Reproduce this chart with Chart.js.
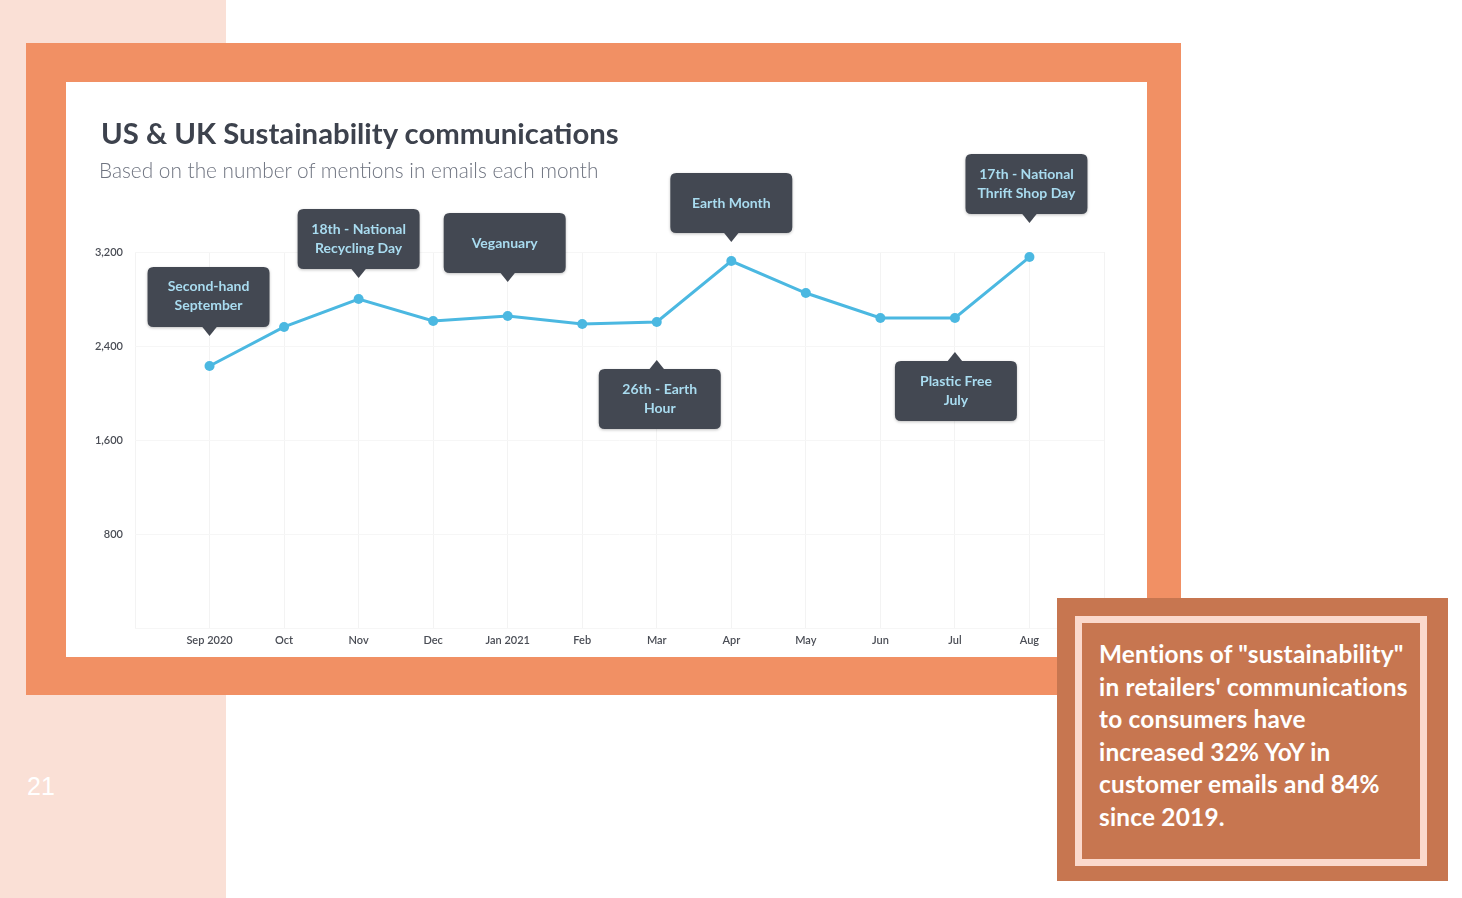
<!DOCTYPE html>
<html>
<head>
<meta charset="utf-8">
<script src="https://cdn.jsdelivr.net/npm/chart.js@4.4.1/dist/chart.umd.min.js"></script>
<style>
  html, body { margin: 0; padding: 0; }
  body { width: 1462px; height: 898px; position: relative; background: #ffffff; overflow: hidden; font-family: Lato, "Open Sans", sans-serif; }
  #strip { position: absolute; left: 0; top: 0; width: 226px; height: 898px; background: #fae0d6; }
  #frame { position: absolute; left: 26px; top: 43px; width: 1155px; height: 652px; background: #f19064; }
  #card { position: absolute; left: 66px; top: 82px; width: 1081px; height: 575px; background: #ffffff; }
  #title { position: absolute; left: 35px; top: 33px; font-size: 29.3px; font-weight: 700; color: #3d424d; white-space: nowrap; }
  #subtitle { position: absolute; left: 33px; top: 75px; font-size: 20.8px; font-weight: 300; color: #6f7480; white-space: nowrap; }
  #chartWrap { position: absolute; left: 0; top: 0; width: 1081px; height: 575px; }
  #page { position: absolute; left: 27px; top: 772px; font-family: "Liberation Sans", Arial, sans-serif; font-size: 25px; color: #ffffff; }
  #note { position: absolute; left: 1057px; top: 598px; width: 391px; height: 283px; background: #c77650; }
  #noteInner { position: absolute; left: 18px; top: 18px; width: 338px; height: 236px; border: 7px solid #fbd9cc; }
  #noteText { position: absolute; left: 42px; top: 40px; font-size: 24.4px; letter-spacing: 0.2px; font-weight: 700; line-height: 32.6px; color: #ffffff; white-space: nowrap; }
</style>
</head>
<body>
<div id="strip"></div>
<div id="frame"></div>
<div id="card">
  <div id="chartWrap"><canvas id="myChart"></canvas></div>
  <div id="title">US &amp; UK Sustainability communications</div>
  <div id="subtitle">Based on the number of mentions in emails each month</div>
</div>
<div id="page">21</div>
<div id="note">
  <div id="noteInner"></div>
  <div id="noteText">Mentions of "sustainability"<br>in retailers' communications<br>to consumers have<br>increased 32% YoY in<br>customer emails and 84%<br>since 2019.</div>
</div>
<script>
// months shown on the x axis
var months = ['Sep 2020', 'Oct', 'Nov', 'Dec', 'Jan 2021', 'Feb', 'Mar', 'Apr', 'May', 'Jun', 'Jul', 'Aug'];
// mentions per month
var mentions = [2230, 2562, 2800, 2613, 2655, 2587, 2604, 3123, 2851, 2638, 2638, 3157];
// y axis ticks
var yTicks = [800, 1600, 2400, 3200];

// callout labels: month index, text lines, side of the point
var calloutIndex = [0, 2, 4, 6, 7, 10, 11];
var calloutText = [
    ['Second-hand', 'September'],
    ['18th - National', 'Recycling Day'],
    ['Veganuary'],
    ['26th - Earth', 'Hour'],
    ['Earth Month'],
    ['Plastic Free', 'July'],
    ['17th - National', 'Thrift Shop Day']
];
var calloutSide = ['above', 'above', 'above', 'below', 'above', 'below', 'above'];
// distance from point to arrow tip, and small sideways shift of the box (px)
var calloutGap = [30, 21, 34, 38, 19, 34, 34];
var calloutShift = [-1, 0, -3, 3, 0, 1, -3];

var points = mentions.map(function (v, i) { return {x: i, y: v}; });

function roundRect(c, x, y, w, h, r) {
    c.beginPath();
    c.moveTo(x + r, y);
    c.lineTo(x + w - r, y);
    c.quadraticCurveTo(x + w, y, x + w, y + r);
    c.lineTo(x + w, y + h - r);
    c.quadraticCurveTo(x + w, y + h, x + w - r, y + h);
    c.lineTo(x + r, y + h);
    c.quadraticCurveTo(x, y + h, x, y + h - r);
    c.lineTo(x, y + r);
    c.quadraticCurveTo(x, y, x + r, y);
    c.closePath();
}

var calloutPlugin = {
    id: 'callouts',
    afterDatasetsDraw: function (chart) {
        var c = chart.ctx;
        var meta = chart.getDatasetMeta(0);
        var bw = 122, bh = 60, aw = 8, ah = 9;
        c.save();
        for (var i = 0; i < calloutIndex.length; i++) {
            var pt = meta.data[calloutIndex[i]];
            var px = pt.x, py = pt.y;
            var cx = px + calloutShift[i];
            var tip, top;
            if (calloutSide[i] == 'above') {
                tip = py - calloutGap[i];
                top = tip - ah - bh;
            } else {
                tip = py + calloutGap[i];
                top = tip + ah;
            }
            var left = cx - bw / 2;
            c.shadowColor = 'rgba(0,0,0,0.25)';
            c.shadowBlur = 3;
            c.shadowOffsetY = 1;
            c.fillStyle = '#434852';
            roundRect(c, left, top, bw, bh, 6);
            c.fill();
            c.shadowColor = 'transparent';
            c.beginPath();
            if (calloutSide[i] == 'above') {
                c.moveTo(px - aw, top + bh - 1);
                c.lineTo(px + aw, top + bh - 1);
                c.lineTo(px, tip);
            } else {
                c.moveTo(px - aw, top + 1);
                c.lineTo(px + aw, top + 1);
                c.lineTo(px, tip);
            }
            c.closePath();
            c.fill();
            c.fillStyle = '#a9dcf0';
            c.font = '700 14px Lato, "Open Sans", sans-serif';
            c.textAlign = 'center';
            c.textBaseline = 'middle';
            var lines = calloutText[i];
            if (lines.length == 1) {
                c.fillText(lines[0], cx, top + bh / 2);
            } else {
                c.fillText(lines[0], cx, top + 20);
                c.fillText(lines[1], cx, top + 39);
            }
        }
        c.restore();
    }
};

var ctx = document.getElementById('myChart').getContext('2d');
var myChart = new Chart(ctx, {
    type: 'line',
    data: {
        datasets: [{
            label: 'Mentions',
            data: points,
            borderColor: '#4bb8e1',
            backgroundColor: '#4bb8e1',
            borderWidth: 3,
            pointRadius: 5,
            pointHoverRadius: 5,
            pointBackgroundColor: '#4bb8e1',
            pointBorderWidth: 0,
            tension: 0
        }]
    },
    options: {
        responsive: true,
        maintainAspectRatio: false,
        animation: false,
        layout: { padding: { left: 0, right: 43, top: 170, bottom: 0 } },
        plugins: {
            legend: { display: false },
            tooltip: { enabled: false }
        },
        scales: {
            x: {
                type: 'linear',
                min: -1,
                max: months.length,
                border: { display: false },
                grid: { color: '#f3f3f3', drawTicks: false },
                ticks: {
                    stepSize: 1,
                    padding: 6,
                    color: '#4a4d55',
                    font: { family: 'Lato, "Open Sans", sans-serif', size: 11, weight: '600' },
                    callback: function (v) {
                        return months[v] !== undefined ? months[v] : '';
                    }
                },
                afterFit: function (s) { s.height = 29; }
            },
            y: {
                min: 0,
                max: 3200,
                border: { display: false },
                grid: { color: '#f6f6f6', drawTicks: false },
                afterBuildTicks: function (s) {
                    s.ticks = [0].concat(yTicks).map(function (v) { return {value: v}; });
                },
                ticks: {
                    padding: 12,
                    color: '#4a4d55',
                    font: { family: 'Lato, "Open Sans", sans-serif', size: 11, weight: '600' },
                    callback: function (v) {
                        return v == 0 ? '' : v.toLocaleString('en-US');
                    }
                },
                afterFit: function (s) { s.width = 69; }
            }
        }
    },
    plugins: [calloutPlugin]
});
</script>
</body>
</html>
